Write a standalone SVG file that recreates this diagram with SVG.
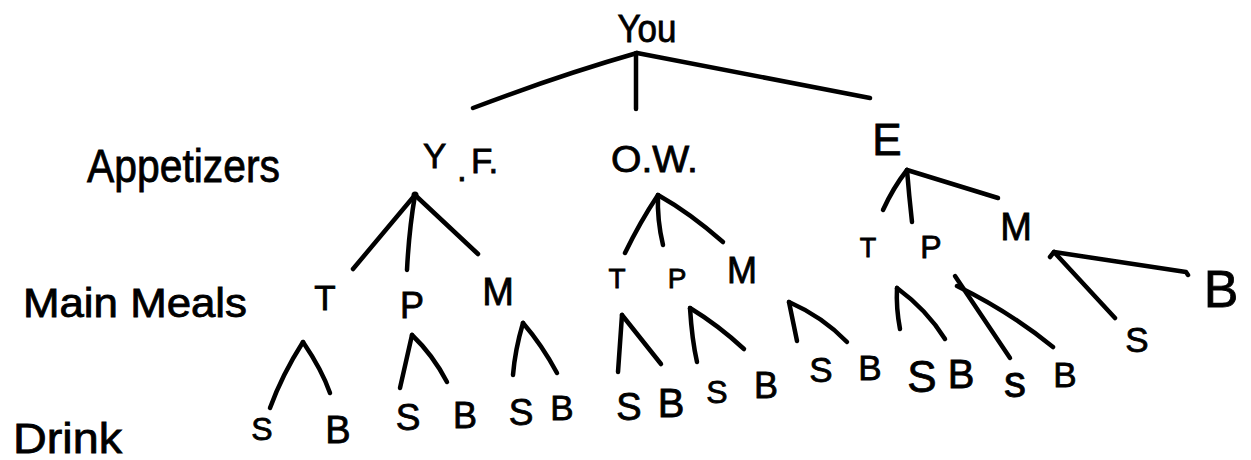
<svg xmlns="http://www.w3.org/2000/svg" width="1251" height="460" viewBox="0 0 1251 460">
<style>
text{font-family:"Liberation Sans","DejaVu Sans",sans-serif;fill:#000;stroke:#000;stroke-width:0.8}
.c{text-anchor:middle}
#connectors path{fill:none;stroke:#000;stroke-width:4.5;stroke-linecap:round;stroke-linejoin:round}
</style>
<rect width="1251" height="460" fill="#fff"/>
<g id="level-labels">
<text x="87" y="182" font-size="46" textLength="193" lengthAdjust="spacingAndGlyphs">Appetizers</text>
<text x="23" y="317" font-size="40" textLength="224" lengthAdjust="spacingAndGlyphs">Main Meals</text>
<text x="13" y="453" font-size="42" textLength="109" lengthAdjust="spacingAndGlyphs">Drink</text>
</g>
<g id="connectors">
<path d="M637,53 Q560,75 473,108"/>
<path d="M636,53 L636,109"/>
<path d="M637,53 L870,98"/>
<path d="M415,195 L353,269"/>
<path d="M415,195 Q409,230 407,270"/>
<path d="M415,195 L478,254"/>
<path d="M303,342 Q282,375 270,408"/>
<path d="M303,342 Q322,370 330,393"/>
<path d="M412,335 L400,388"/>
<path d="M412,335 Q433,355 447,382"/>
<path d="M523,323 Q515,350 513,375"/>
<path d="M523,323 Q542,345 557,373"/>
<path d="M658,195 Q640,222 625,253"/>
<path d="M658,195 Q657,220 663,245"/>
<path d="M658,195 Q690,213 723,242"/>
<path d="M622,315 L618,372"/>
<path d="M622,315 L661,364"/>
<path d="M690,308 Q692,340 697,362"/>
<path d="M690,308 Q718,325 744,349"/>
<path d="M789,302 L797,341"/>
<path d="M789,302 Q823,317 847,342"/>
<path d="M907,170 Q893,188 883,210"/>
<path d="M907,170 Q909,195 912,222"/>
<path d="M907,170 L998,198"/>
<path d="M897,288 Q896,308 900,329"/>
<path d="M897,288 Q927,310 945,339"/>
<path d="M955,276 L1010,358"/>
<path d="M957,286 Q1010,312 1053,347"/>
<path d="M1050,257 L1054,252 L1186,272 L1188,275"/>
<path d="M1054,252 L1115,318"/>
</g>
<g id="node-you"><text class="c" x="647" y="42" font-size="38" textLength="59" lengthAdjust="spacingAndGlyphs">You</text></g>
<g id="node-yf"><text font-size="35"><tspan x="423" y="168">Y</tspan><tspan x="457" y="181">.</tspan><tspan x="471" y="173">F.</tspan></text></g>
<g id="node-ow"><text x="611" y="172" font-size="37" textLength="87" lengthAdjust="spacingAndGlyphs">O.W.</text></g>
<g id="node-e"><text class="c" x="887" y="155" font-size="44">E</text></g>
<g id="node-yf-t"><text class="c" x="325" y="310" font-size="35">T</text></g>
<g id="node-yf-p"><text class="c" x="412" y="318" font-size="36">P</text></g>
<g id="node-yf-m"><text class="c" x="498" y="305" font-size="38">M</text></g>
<g id="node-yf-t-s"><text class="c" x="262" y="440" font-size="32">S</text></g>
<g id="node-yf-t-b"><text class="c" x="338" y="443" font-size="38">B</text></g>
<g id="node-yf-p-s"><text class="c" x="408" y="430" font-size="37">S</text></g>
<g id="node-yf-p-b"><text class="c" x="465" y="428" font-size="36">B</text></g>
<g id="node-yf-m-s"><text class="c" x="521" y="425" font-size="37">S</text></g>
<g id="node-yf-m-b"><text class="c" x="562" y="420" font-size="35">B</text></g>
<g id="node-ow-t"><text class="c" x="617" y="288" font-size="28">T</text></g>
<g id="node-ow-p"><text class="c" x="677" y="288" font-size="28">P</text></g>
<g id="node-ow-m"><text class="c" x="742" y="283" font-size="36">M</text></g>
<g id="node-ow-t-s"><text class="c" x="629" y="420" font-size="38">S</text></g>
<g id="node-ow-t-b"><text class="c" x="671" y="417" font-size="40">B</text></g>
<g id="node-ow-p-s"><text class="c" x="717" y="403" font-size="32">S</text></g>
<g id="node-ow-p-b"><text class="c" x="766" y="398" font-size="36">B</text></g>
<g id="node-ow-m-s"><text class="c" x="821" y="382" font-size="35">S</text></g>
<g id="node-ow-m-b"><text class="c" x="870" y="380" font-size="35">B</text></g>
<g id="node-e-t"><text class="c" x="868" y="257" font-size="27">T</text></g>
<g id="node-e-p"><text class="c" x="931" y="258" font-size="32">P</text></g>
<g id="node-e-m"><text class="c" x="1016" y="240" font-size="38">M</text></g>
<g id="node-e-t-s"><text class="c" x="922" y="392" font-size="44">S</text></g>
<g id="node-e-t-b"><text class="c" x="961" y="388" font-size="40">B</text></g>
<g id="node-e-p-s"><text class="c" x="1015" y="397" font-size="44">s</text></g>
<g id="node-e-p-b"><text class="c" x="1065" y="387" font-size="35">B</text></g>
<g id="node-e-m-s"><text class="c" x="1137" y="352" font-size="35">S</text></g>
<g id="node-e-m-b"><text class="c" x="1221" y="307" font-size="52">B</text></g>
<g id="yf-dot"><circle cx="415" cy="195" r="3.5" fill="#000"/></g>
</svg>
